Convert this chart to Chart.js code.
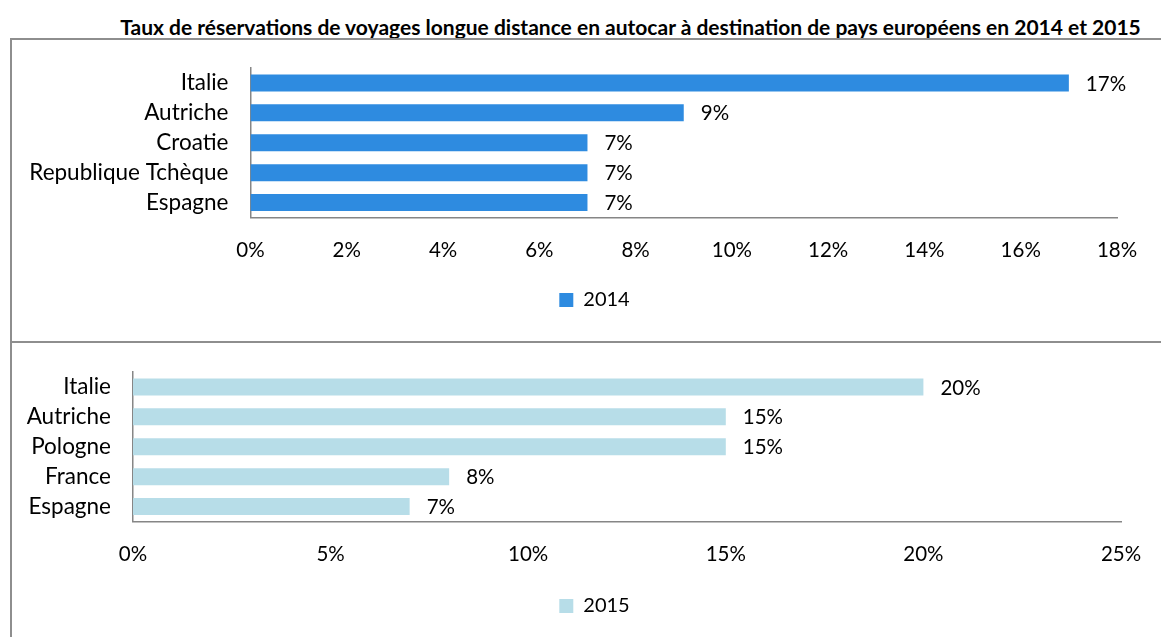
<!DOCTYPE html>
<html>
<head>
<meta charset="utf-8">
<script src="https://cdn.jsdelivr.net/npm/chart.js@4"></script>
<style>
  html, body { margin:0; padding:0; background:#fff; width:1161px; height:637px; overflow:hidden; }
  #title { position:absolute; left:0; top:14px; width:1261px; text-align:center; font-family:Lato, sans-serif; font-weight:bold; font-size:21px; color:#000; white-space:nowrap; }
  .panel { position:absolute; border:2px solid #8e8e8e; box-sizing:border-box; }
  .wrap { position:absolute; }
</style>
</head>
<body>
<div id="title">Taux de réservations de voyages longue distance en autocar à destination de pays européens en 2014 et 2015</div>
<div class="panel" style="left:10px; top:38px; width:1200px; height:305px;"></div>
<div class="panel" style="left:10px; top:341px; width:1200px; height:320px;"></div>
<div class="wrap" style="left:12px; top:40px; width:1140px; height:300px;"><canvas id="c1"></canvas></div>
<div class="wrap" style="left:12px; top:344px; width:1140px; height:300px;"><canvas id="c2"></canvas></div>
<script>
const categories2014 = ["Italie", "Autriche", "Croatie", "Republique Tchèque", "Espagne"];
const values2014 = [17, 9, 7, 7, 7];
const categories2015 = ["Italie", "Autriche", "Pologne", "France", "Espagne"];
const values2015 = [20, 15, 15, 8, 7];
const ticks2014 = {min: 0, max: 18, step: 2};
const ticks2015 = {min: 0, max: 25, step: 5};

const FONT = "Lato, 'Open Sans', sans-serif";

const valueLabels = {
  id: 'valueLabels',
  afterDatasetsDraw(chart) {
    const ctx = chart.ctx;
    ctx.save();
    ctx.font = "20.5px " + FONT;
    ctx.fillStyle = "#000";
    ctx.textAlign = "left";
    ctx.textBaseline = "middle";
    chart.data.datasets.forEach((ds, i) => {
      chart.getDatasetMeta(i).data.forEach((bar, j) => {
        ctx.fillText(ds.data[j] + "%", bar.x + 17, bar.y + 1);
      });
    });
    ctx.restore();
  }
};

const legendShift = {
  id: 'legendShift',
  afterLayout(chart) {
    const lg = chart.legend;
    if (!lg) return;
    const target = 582.5;
    const dx = target - (lg.left + lg.right) / 2;
    lg.left += dx; lg.right += dx;
    if (lg.legendHitBoxes) lg.legendHitBoxes.forEach(b => { b.left += dx; });
  }
};

function makeChart(id, labels, values, label, color, tk, yWidth, rightPad, padBottom, xHeight) {
  return new Chart(document.getElementById(id), {
    type: 'bar',
    data: {
      labels: labels,
      datasets: [{
        label: label,
        data: values,
        backgroundColor: color,
        borderWidth: 0,
        categoryPercentage: 1,
        barPercentage: 0.57
      }]
    },
    options: {
      indexAxis: 'y',
      responsive: true,
      maintainAspectRatio: false,
      animation: false,
      layout: { padding: { left: 0, right: rightPad, top: 28, bottom: padBottom } },
      plugins: {
        legend: {
          position: 'bottom',
          labels: { font: { family: FONT, size: 20 }, color: '#000', boxWidth: 14, boxHeight: 14, padding: 10 }
        },
        tooltip: { enabled: false }
      },
      scales: {
        x: {
          min: tk.min, max: tk.max,
          grid: { display: false, drawTicks: false },
          border: { display: true, color: '#868686', width: 1.5 },
          ticks: { stepSize: tk.step, padding: 21, color: '#000', font: { family: FONT, size: 20.5 },
                   callback: v => v + '%' },
          afterFit: s => { s.height = xHeight; s.paddingLeft = 0; s.paddingRight = 0; }
        },
        y: {
          grid: { display: false, drawTicks: false },
          border: { display: true, color: '#868686', width: 1.5 },
          ticks: { autoSkip: false, padding: 22, color: '#000', font: { family: FONT, size: 22.5 } },
          afterFit: s => { s.width = yWidth; s.paddingTop = 0; s.paddingBottom = 0; }
        }
      }
    },
    plugins: [valueLabels, legendShift]
  });
}

makeChart('c1', categories2014, values2014, '2014', '#2E8BE0', ticks2014, 238.5, 35, 20, 62.5);
makeChart('c2', categories2015, values2015, '2015', '#B7DDE8', ticks2015, 121, 31, 18, 64.5);
</script>
</body>
</html>
